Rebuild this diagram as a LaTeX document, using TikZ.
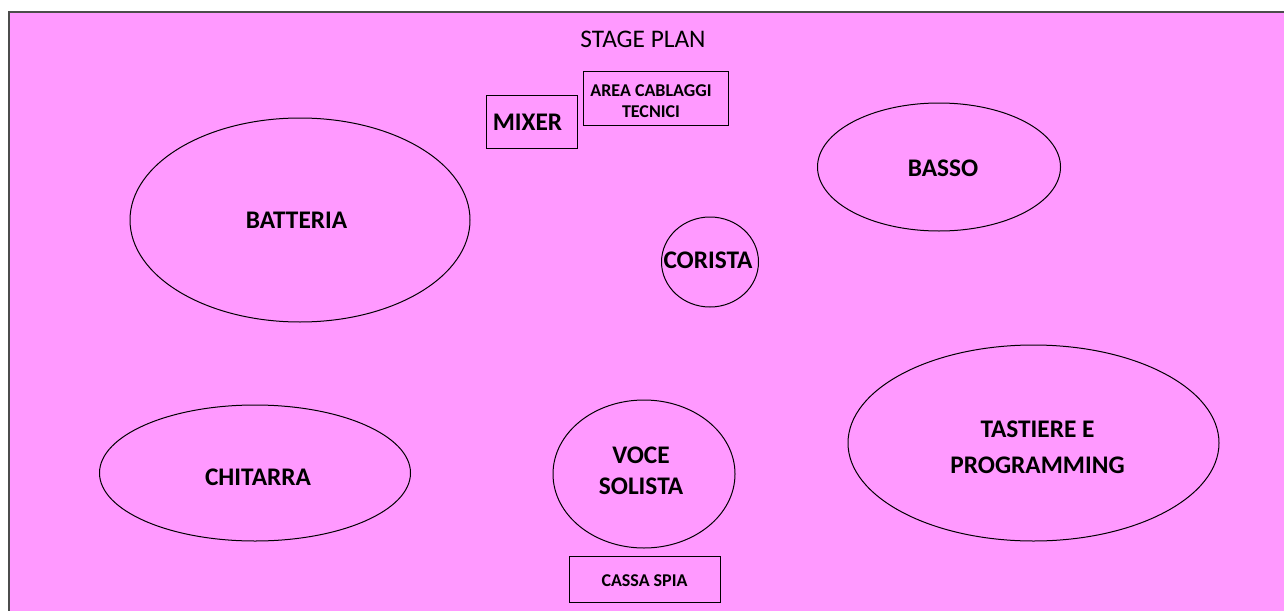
\documentclass[tikz,border=0pt]{standalone}
\usepackage{fontspec}
\setmainfont{Carlito}
\usetikzlibrary{positioning}
\definecolor{stagepink}{HTML}{FF99FF}

\begin{document}
\begin{tikzpicture}[x=0.75pt,y=-0.75pt,
    lbl/.style={font=\fontsize{19}{23}\selectfont\bfseries,align=center,inner sep=0pt},
    small/.style={font=\fontsize{13.5}{16}\selectfont\bfseries,align=center,inner sep=0pt},
    outline/.style={draw=black,line width=0.75pt}]
  \clip (0,0) rectangle (1284,610);
  % stage area
  \filldraw[fill=stagepink,draw=black!70,line width=0.9pt] (9,12) rectangle (1300,630);
  \node[font=\fontsize{19}{23}\selectfont,inner sep=0pt] (title) at (643,39) {STAGE PLAN};

  % boxes at the top
  \draw[outline] (486,95) rectangle (577,148);
  \node[lbl] (mixer) at (527.5,122.5) {MIXER};
  \draw[outline] (583,72) rectangle (728,125);
  \node[small] (cablaggi) at (651,101) {AREA CABLAGGI\\TECNICI};

  % musicians
  \draw[outline] (300,220) ellipse (170 and 102);
  \node[lbl] (batteria) at (296.5,220) {BATTERIA};
  \draw[outline] (939,167) ellipse (121.5 and 64);
  \node[lbl] (basso) at (943,168) {BASSO};
  \draw[outline] (710,262) ellipse (48.5 and 45);
  \node[lbl] (corista) at (708,260) {CORISTA};
  \draw[outline] (255,473) ellipse (155.5 and 68);
  \node[lbl] (chitarra) at (258,477) {CHITARRA};
  \draw[outline] (644,474) ellipse (91 and 74);
  \node[lbl,font=\fontsize{19}{23.5}\selectfont\bfseries] (voce) at (641,471) {VOCE\\SOLISTA};
  \draw[outline] (1033.5,443) ellipse (185.5 and 98);
  \node[lbl,font=\fontsize{19}{27}\selectfont\bfseries] (tastiere) at (1037.5,447) {TASTIERE E\\PROGRAMMING};

  % monitor
  \draw[outline] (569,556) rectangle (720,602);
  \node[small] (cassa) at (644.5,581) {CASSA SPIA};
\end{tikzpicture}
\end{document}
